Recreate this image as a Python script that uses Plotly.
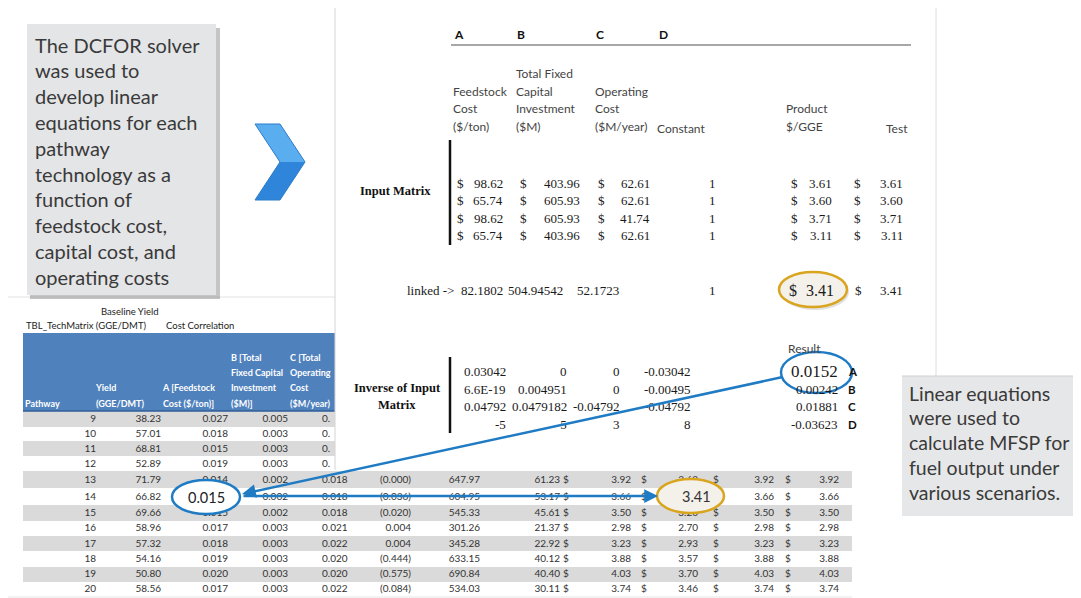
import plotly.graph_objects as go

# ---------------- data ----------------
left_note = ["The DCFOR solver", "was used to", "develop linear", "equations for each",
             "pathway", "technology as a", "function of", "feedstock cost,",
             "capital cost, and", "operating costs"]
right_note = ["Linear equations", "were used to", "calculate MFSP for",
              "fuel output under", "various scenarios."]

col_letters = ["A", "B", "C", "D"]
input_feedstock = [98.62, 65.74, 98.62, 65.74]
input_capital = [403.96, 605.93, 605.93, 403.96]
input_operating = [62.61, 62.61, 41.74, 62.61]
input_constant = [1, 1, 1, 1]
input_product = [3.61, 3.60, 3.71, 3.11]
input_test = [3.61, 3.60, 3.71, 3.11]

linked_inputs = ["82.1802", "504.94542", "52.1723"]
linked_constant = 1
linked_product = 3.41
linked_test = 3.41

inverse_matrix = [["0.03042", "0", "0", "-0.03042"],
                  ["6.6E-19", "0.004951", "0", "-0.00495"],
                  ["0.04792", "0.0479182", "-0.04792", "-0.04792"],
                  ["-5", "-5", "3", "8"]]
result_values = ["0.0152", "0.00242", "0.01881", "-0.03623"]

pathways = [9, 10, 11, 12, 13, 14, 15, 16, 17, 18, 19, 20]
yield_gge = ["38.23", "57.01", "68.81", "52.89", "71.79", "66.82", "69.66", "58.96",
             "57.32", "54.16", "50.80", "58.56"]
coef_a = ["0.027", "0.018", "0.015", "0.019", "0.014", "0.015", "0.015", "0.017",
          "0.018", "0.019", "0.020", "0.017"]
coef_b = ["0.005", "0.003", "0.003", "0.003", "0.002", "0.002", "0.002", "0.003",
          "0.003", "0.003", "0.003", "0.003"]
coef_c = ["0.", "0.", "0.", "0.", "0.018", "0.018", "0.018", "0.021",
          "0.022", "0.020", "0.020", "0.022"]
# visible only for pathways 13-20
coef_d = ["(0.000)", "(0.036)", "(0.020)", "0.004", "0.004", "(0.444)", "(0.575)", "(0.084)"]
col_e = ["647.97", "604.95", "545.33", "301.26", "345.28", "633.15", "690.84", "534.03"]
col_f = ["61.23", "53.17", "45.61", "21.37", "22.92", "40.12", "40.40", "30.11"]
mfsp_base = ["3.92", "3.66", "3.50", "2.98", "3.23", "3.88", "4.03", "3.74"]
mfsp_linear = ["3.62", "3.41", "3.26", "2.70", "2.93", "3.57", "3.70", "3.46"]
mfsp_c3 = ["3.92", "3.66", "3.50", "2.98", "3.23", "3.88", "4.03", "3.74"]
mfsp_c4 = ["3.92", "3.66", "3.50", "2.98", "3.23", "3.88", "4.03", "3.74"]

header_lines = {
    "Pathway": ["", "", "", "Pathway"],
    "Yield": ["", "", "Yield", "(GGE/DMT)"],
    "A": ["", "", "A [Feedstock", "Cost ($/ton)]"],
    "B": ["B [Total", "Fixed Capital", "Investment", "($M)]"],
    "C": ["C [Total", "Operating", "Cost", "($M/year)"],
}

highlight_pathway = 14

# ---------------- figure ----------------
fig = go.Figure()
shapes = []
anns = []

SANS = "Lato"
SERIF = "Liberation Serif"
BLUE = "#1f7bc4"
GOLD = "#d9a41e"
NUM = 13


def ann(x, y, text, size, color="#333333", family=SANS, xanchor="left", bold=False):
    anns.append(dict(x=x, y=y, xref="x", yref="y", text=(f"<b>{text}</b>" if bold else text),
                     showarrow=False, xanchor=xanchor, yanchor="middle",
                     font=dict(size=size, color=color, family=family)))


def rect(x0, y0, x1, y1, fill, layer="above", line_color=None, lw=0):
    shapes.append(dict(type="rect", xref="x", yref="y", x0=x0, y0=y0, x1=x1, y1=y1,
                       fillcolor=fill, layer=layer,
                       line=dict(width=lw, color=line_color or fill)))


def line(x0, y0, x1, y1, color, width, layer="above"):
    shapes.append(dict(type="line", xref="x", yref="y", x0=x0, y0=y0, x1=x1, y1=y1,
                       layer=layer, line=dict(color=color, width=width)))


# ---- lower spreadsheet (bottom layer) ----
row_y = [419, 434, 449, 464, 480, 497, 513, 528, 544, 559, 574, 589]
row_top = [411, 427, 441, 456, 471, 488, 505, 521, 536, 551, 567, 582]
row_bot = row_top[1:] + [597]
for i, p in enumerate(pathways):
    if i % 2 == 0:
        rect(23, row_top[i], 852, row_bot[i], "#dadada", layer="below")
rect(662, 488, 716, 505, "#f3efe7", layer="below")
rect(23, 333, 335, 411, "#4f81bd", layer="below")
line(23, 411, 335, 411, "#2f5f99", 1.5, layer="below")
line(8, 297, 335, 297, "#e2e2e2", 1, layer="below")
line(8, 597, 852, 597, "#e6e6e6", 1, layer="below")

tf = dict(family=SANS, size=10, color="#333333")


def col_trace(xs, ys, texts, pos, font=tf):
    fig.add_trace(go.Scatter(x=xs, y=ys, text=texts, mode="text", textposition=pos,
                             textfont=font, hoverinfo="skip", showlegend=False,
                             cliponaxis=False))


k14 = pathways.index(highlight_pathway)
n = len(pathways)
col_trace([96] * n, row_y, [str(p) for p in pathways], "middle left")
col_trace([161] * n, row_y, yield_gge, "middle left")
# the highlighted cell is written larger, inside its ellipse, further below
col_trace([228] * n, row_y, [t if i != k14 else "" for i, t in enumerate(coef_a)], "middle left")
col_trace([288] * n, row_y, coef_b, "middle left")
col_trace([322] * n, row_y, coef_c, "middle right")
ly = row_y[4:]
m = len(ly)
k14b = k14 - 4
col_trace([411] * m, ly, coef_d, "middle left")
col_trace([480] * m, ly, col_e, "middle left")
col_trace([560] * m, ly, col_f, "middle left")
col_trace([566] * m, ly, ["$"] * m, "middle center")
col_trace([631] * m, ly, mfsp_base, "middle left")
col_trace([644] * m, ly, ["$"] * m, "middle center")
col_trace([698] * m, ly, [t if i != k14b else "" for i, t in enumerate(mfsp_linear)], "middle left")
col_trace([716] * m, ly, ["$"] * m, "middle center")
col_trace([774] * m, ly, mfsp_c3, "middle left")
col_trace([788] * m, ly, ["$"] * m, "middle center")
col_trace([839] * m, ly, mfsp_c4, "middle left")

hfont = dict(family=SANS, size=9, color="white")
hy = [359, 374, 389, 405]
for key, hx in zip(["Pathway", "Yield", "A", "B", "C"], [25, 96, 163, 231, 290]):
    col_trace([hx] * 4, hy, [f"<b>{t}</b>" if t else "" for t in header_lines[key]],
              "middle right", font=hfont)

ann(99, 311, "Baseline Yield", 9.5, color="#222222")
ann(24, 325, "TBL_TechMatrix (GGE/DMT)", 9.5, color="#222222")
ann(164, 325, "Cost Correlation", 9.5, color="#222222")

# ---- top panel (white screenshot covering the table) ----
rect(335, 8, 936, 470, "white")
line(335, 8, 335, 470, "#d4d4d4", 1)
line(936, 8, 936, 470, "#dcdcdc", 1)

for lx, letter in zip([452, 515, 594, 657], col_letters):
    ann(lx, 34, letter, 12, color="#111111", bold=True)
line(451, 45, 911, 45, "#8a8a8a", 1.5)

hc = "#444444"
ann(514, 73, "Total Fixed", 12, hc)
for t, x in [("Feedstock", 451), ("Capital", 514), ("Operating", 593)]:
    ann(x, 91, t, 12, hc)
for t, x in [("Cost", 451), ("Investment", 514), ("Cost", 593), ("Product", 784)]:
    ann(x, 108, t, 12, hc)
for t, x in [("($/ton)", 451), ("($M)", 514), ("($M/year)", 593), ("$/GGE", 784)]:
    ann(x, 126, t, 12, hc)
ann(655, 128, "Constant", 12, hc)
ann(884, 128, "Test", 12, hc)

line(450, 140, 450, 245, "#111111", 2.5)
ann(433, 191, "Input Matrix", 12.5, color="#111111", family=SERIF, xanchor="right", bold=True)
in_y = [183, 200, 218, 235]
nc = "#1a1a1a"
for i, yy in enumerate(in_y):
    ann(455, yy, "$", NUM, nc, SERIF)
    ann(505, yy, f"{input_feedstock[i]:.2f}", NUM, nc, SERIF, "right")
    ann(518, yy, "$", NUM, nc, SERIF)
    ann(582, yy, f"{input_capital[i]:.2f}", NUM, nc, SERIF, "right")
    ann(596, yy, "$", NUM, nc, SERIF)
    ann(652, yy, f"{input_operating[i]:.2f}", NUM, nc, SERIF, "right")
    ann(712, yy, str(input_constant[i]), NUM, nc, SERIF, "center")
    ann(789, yy, "$", NUM, nc, SERIF)
    ann(834, yy, f"{input_product[i]:.2f}", NUM, nc, SERIF, "right")
    ann(852, yy, "$", NUM, nc, SERIF)
    ann(905, yy, f"{input_test[i]:.2f}", NUM, nc, SERIF, "right")

# gold ellipse (top)
shapes.append(dict(type="circle", xref="x", yref="y", x0=781, y0=274, x1=849, y1=310,
                   fillcolor="rgba(0,0,0,0.12)", line=dict(width=0), layer="above"))
shapes.append(dict(type="circle", xref="x", yref="y", x0=779, y0=272, x1=847, y1=307,
                   fillcolor="#f4f0ea", line=dict(color=GOLD, width=2.5), layer="above"))
ann(456, 290, "linked ->", NUM, nc, SERIF, "right")
for v, rx in zip(linked_inputs, [505, 565, 621]):
    ann(rx, 290, v, NUM, nc, SERIF, "right")
ann(712, 290, str(linked_constant), NUM, nc, SERIF, "center")
ann(787, 290, "$", 16, nc, SERIF)
ann(836, 290, f"{linked_product:.2f}", 16, nc, SERIF, "right")
ann(853, 290, "$", NUM, nc, SERIF)
ann(905, 290, f"{linked_test:.2f}", NUM, nc, SERIF, "right")

ann(786, 348, "Result", 12, hc)
line(450, 357, 450, 433, "#111111", 2.5)
ann(397, 388, "Inverse of Input", 12.5, "#111111", SERIF, "center", bold=True)
ann(397, 405, "Matrix", 12.5, "#111111", SERIF, "center", bold=True)
shapes.append(dict(type="circle", xref="x", yref="y", x0=781, y0=352, x1=852, y1=393,
                   fillcolor="white", line=dict(color=BLUE, width=2.5), layer="above"))
inv_y = [371, 389, 406, 424]
for i, yy in enumerate(inv_y):
    for j, rx in enumerate([508, 569, 622, 693]):
        ann(rx, yy, inverse_matrix[i][j], NUM, nc, SERIF, "right")
    ann(840, yy, result_values[i], 17 if i == 0 else NUM, nc, SERIF, "right")
    ann(846, yy, col_letters[i], 11.5, "#111111", SANS, bold=True)

# ---- callout boxes ----
rect(902, 376, 1081, 516, "#e6e7e8")
line(902, 376, 1081, 376, "#d0d0d0", 1)
for i, t in enumerate(right_note):
    ann(907, 393 + i * 24.8, t, 19.5, "#3a3a3a")

rect(30, 28, 220, 299, "rgba(90,90,90,0.35)")
rect(27, 24, 216, 295, "#e4e5e7")
for i, t in enumerate(left_note):
    ann(33, 44.5 + i * 25.8, t, 20, "#3a3a3a")

# chevron
shapes.append(dict(type="path", xref="x", yref="y",
                   path="M 255 124 L 280 124 L 305 162 L 280 162 Z",
                   fillcolor="#5aaef0", line=dict(width=0), layer="above"))
shapes.append(dict(type="path", xref="x", yref="y",
                   path="M 280 162 L 305 162 L 280 200 L 255 200 Z",
                   fillcolor="#2f85da", line=dict(width=0), layer="above"))
shapes.append(dict(type="path", xref="x", yref="y",
                   path="M 255 124 L 280 124 L 305 162 L 280 200 L 255 200 L 280 162 Z",
                   fillcolor="rgba(0,0,0,0)", line=dict(width=1, color="#2a7cc9"), layer="above"))

# ---- lower highlight ellipses ----
shapes.append(dict(type="circle", xref="x", yref="y", x0=172, y0=480, x1=240, y1=514,
                   fillcolor="white", line=dict(color=BLUE, width=2.5), layer="above"))
shapes.append(dict(type="circle", xref="x", yref="y", x0=657, y0=479, x1=724, y1=513,
                   fillcolor="#f4f0ea", line=dict(color=GOLD, width=2.5), layer="above"))
ann(206, 497, coef_a[k14], 14.5, "#222222", SANS, "center")
ann(713, 496, mfsp_linear[k14b], 14.5, "#333333", SANS, "right")

fig.update_layout(shapes=shapes, annotations=anns)

# arrows
fig.add_annotation(x=242, y=494, ax=783, ay=377, xref="x", yref="y", axref="x", ayref="y",
                   text="", showarrow=True, arrowhead=2, arrowsize=1.1, arrowwidth=2.5,
                   arrowcolor=BLUE, standoff=0, startstandoff=0)
fig.add_annotation(x=658, y=496, ax=242, ay=496, xref="x", yref="y", axref="x", ayref="y",
                   text="", showarrow=True, arrowhead=2, arrowsize=1.1, arrowwidth=2.5,
                   arrowcolor=BLUE, standoff=0, startstandoff=0)

# the page body has an 8px margin: size and offset the plot so that the
# data coordinates below coincide with the window's pixels
fig.update_layout(
    width=1073, height=590,
    margin=dict(l=0, r=0, t=0, b=0),
    paper_bgcolor="white", plot_bgcolor="white",
    xaxis=dict(range=[8, 1081], visible=False, fixedrange=True),
    yaxis=dict(range=[598, 8], visible=False, fixedrange=True),
    showlegend=False,
)

fig.write_html("out.html")
